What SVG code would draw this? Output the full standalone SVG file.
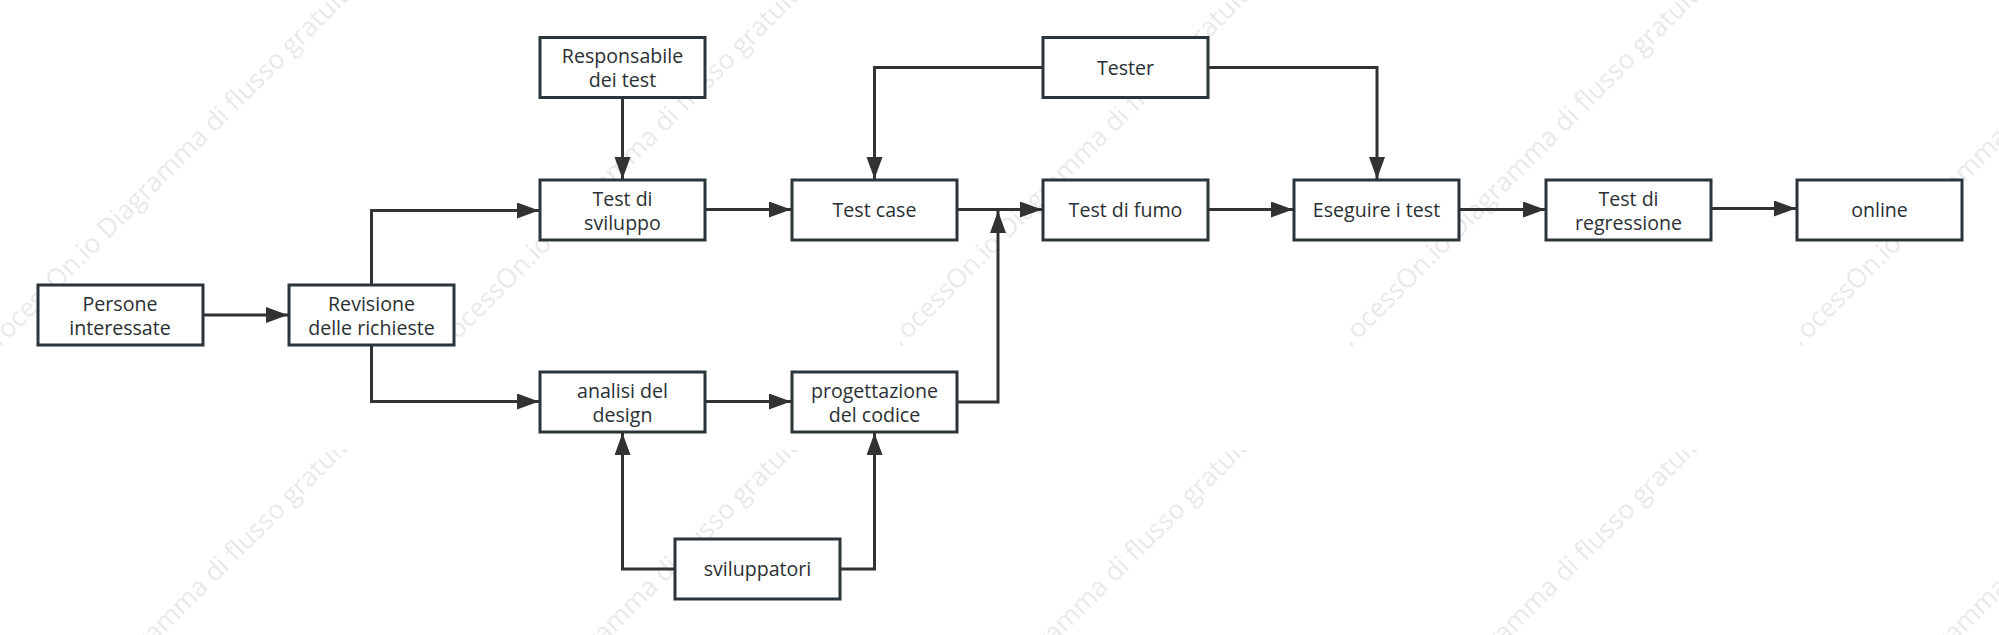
<svg xmlns="http://www.w3.org/2000/svg" width="1999" height="635" viewBox="0 0 1999 635">
<style>
.n{fill:#fff;stroke:#2b343b;stroke-width:3}
.l{font-family:"Open Sans","Noto Sans","Liberation Sans",sans-serif;font-size:19.600px;fill:#2a2f33;text-anchor:middle}
.c path{fill:none;stroke:#323232;stroke-width:3;marker-end:url(#a)}
.w{font-family:"Open Sans","Noto Sans",sans-serif;font-size:26.400px;fill:#e9e9e9}
</style>
<defs>
<marker id="a" markerUnits="userSpaceOnUse" markerWidth="24" markerHeight="18" refX="22" refY="8" orient="auto"><path d="M0 0L22 8L0 16Z" fill="#323232"/></marker>
<pattern id="wm" patternUnits="userSpaceOnUse" width="450" height="450"><text class="w" transform="translate(-11 359) rotate(-45)">ProcessOn.io Diagramma di flusso gratuito</text></pattern>
</defs>
<rect width="1999" height="635" fill="#fff"/>
<rect id="watermark" width="1999" height="635" fill="url(#wm)"/>
<g id="n1"><rect class="n" x="38" y="285" width="165" height="60"/><text class="l"><tspan x="120" y="311">Persone</tspan><tspan x="120" y="335">interessate</tspan></text></g>
<g id="n2"><rect class="n" x="289" y="285" width="165" height="60"/><text class="l"><tspan x="371.500" y="311">Revisione</tspan><tspan x="371.500" y="335">delle richieste</tspan></text></g>
<g id="n3"><rect class="n" x="540" y="37.500" width="165" height="60"/><text class="l"><tspan x="622.500" y="63">Responsabile</tspan><tspan x="622.500" y="87">dei test</tspan></text></g>
<g id="n4"><rect class="n" x="540" y="180" width="165" height="60"/><text class="l"><tspan x="622.500" y="206">Test di</tspan><tspan x="622.500" y="230">sviluppo</tspan></text></g>
<g id="n5"><rect class="n" x="540" y="372" width="165" height="60"/><text class="l"><tspan x="622.500" y="398">analisi del</tspan><tspan x="622.500" y="422">design</tspan></text></g>
<g id="n6"><rect class="n" x="792" y="180" width="165" height="60"/><text class="l" x="874.500" y="217">Test case</text></g>
<g id="n7"><rect class="n" x="792" y="372" width="165" height="60"/><text class="l"><tspan x="874.500" y="398">progettazione</tspan><tspan x="874.500" y="422">del codice</tspan></text></g>
<g id="n8"><rect class="n" x="675" y="539" width="165" height="60"/><text class="l" x="757.500" y="576">sviluppatori</text></g>
<g id="n9"><rect class="n" x="1043" y="37.500" width="165" height="60"/><text class="l" x="1125.500" y="75">Tester</text></g>
<g id="n10"><rect class="n" x="1043" y="180" width="165" height="60"/><text class="l" x="1125.500" y="217">Test di fumo</text></g>
<g id="n11"><rect class="n" x="1294" y="180" width="165" height="60"/><text class="l" x="1376.500" y="217">Eseguire i test</text></g>
<g id="n12"><rect class="n" x="1546" y="180" width="165" height="60"/><text class="l"><tspan x="1628.500" y="206">Test di</tspan><tspan x="1628.500" y="230">regressione</tspan></text></g>
<g id="n13"><rect class="n" x="1797" y="180" width="165" height="60"/><text class="l" x="1879.500" y="217">online</text></g>
<g id="connectors" class="c">
<path d="M204 315H288"/>
<path d="M371.500 284V210.500H539"/>
<path d="M371.500 346V401.500H539"/>
<path d="M622.500 98V179"/>
<path d="M705 209.500H791"/>
<path d="M705 401.500H791"/>
<path d="M958 209.500H1042"/>
<path d="M958 402H998V211"/>
<path d="M674 569H622.500V433"/>
<path d="M841 569H874.500V433"/>
<path d="M1042 67.500H874.500V179"/>
<path d="M1209 67.500H1377V179"/>
<path d="M1209 209.500H1293"/>
<path d="M1459 209.500H1545"/>
<path d="M1712 208.500H1796"/>
</g>
</svg>
